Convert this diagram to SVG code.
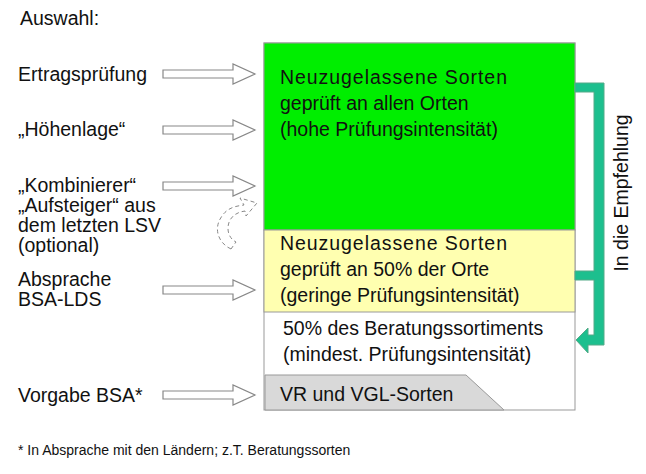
<svg xmlns="http://www.w3.org/2000/svg" width="646" height="474" viewBox="0 0 646 474">
<style>
text{font-family:"Liberation Sans",Arial,sans-serif;font-size:19.5px;fill:#111}
.arr{fill:#fff;stroke:#888;stroke-width:1.2}
</style>
<defs>
<path id="ha" d="M0,-4 H70 V-10 L92,0 L70,10 V4 H0 Z"/>
</defs>
<rect width="646" height="474" fill="#fff"/>
<text x="20" y="25">Auswahl:</text>
<g id="main">
<rect x="264" y="43" width="311" height="367" fill="#fff" stroke="#999"/>
<rect x="264" y="43" width="311" height="187" fill="#00ee00" stroke="#999"/>
<rect x="264" y="230" width="311" height="82" fill="#ffffb0" stroke="#999"/>
<path d="M265,375 H466 L504,410 H265 Z" fill="#d9d9d9" stroke="#999"/>
<text x="280" y="84" textLength="227">Neuzugelassene Sorten</text>
<text x="280" y="110">geprüft an allen Orten</text>
<text x="280" y="136">(hohe Prüfungsintensität)</text>
<text x="280" y="250" textLength="227">Neuzugelassene Sorten</text>
<text x="280" y="276">geprüft an 50% der Orte</text>
<text x="280" y="302">(geringe Prüfungsintensität)</text>
<text x="283" y="335">50% des Beratungssortiments</text>
<text x="283" y="361">(mindest. Prüfungsintensität)</text>
<text x="280" y="401">VR und VGL-Sorten</text>
</g>
<g id="bracket">
<path d="M575,83 H604 V345 H588 V353 L576,340 L588,328 V335 H594 V280 H575 V271 H594 V92 H575 Z" fill="#1dbf8e" stroke="#5a8" stroke-width="1"/>
<text transform="translate(628,193) rotate(-90)" text-anchor="middle">In die Empfehlung</text>
</g>
<g id="labels">
<text x="18" y="81">Ertragsprüfung</text>
<text x="18" y="136">„Höhenlage“</text>
<text x="18" y="192">„Kombinierer“</text>
<text x="18" y="212">„Aufsteiger“ aus</text>
<text x="18" y="232">dem letzten LSV</text>
<text x="18" y="252">(optional)</text>
<text x="18" y="286">Absprache</text>
<text x="18" y="306">BSA-LDS</text>
<text x="18" y="402">Vorgabe BSA*</text>
<text x="18" y="455" style="font-size:14px">* In Absprache mit den Ländern; z.T. Beratungssorten</text>
</g>
<g id="connectors">
<use href="#ha" x="163" y="74" class="arr"/>
<use href="#ha" x="163" y="130" class="arr"/>
<use href="#ha" x="163" y="186" class="arr"/>
<use href="#ha" x="163" y="290" class="arr"/>
<use href="#ha" x="163" y="395" class="arr"/>
<path d="M231,249 C218,243 213,228 222,216 C228,207 237,206 244,205 L240,198 L257,203 L246,216 L245,211 C238,212 233,215 230,220 C226,228 228,238 236,242 Z" fill="#fff" stroke="#888" stroke-dasharray="4,3"/>
</g>
</svg>
